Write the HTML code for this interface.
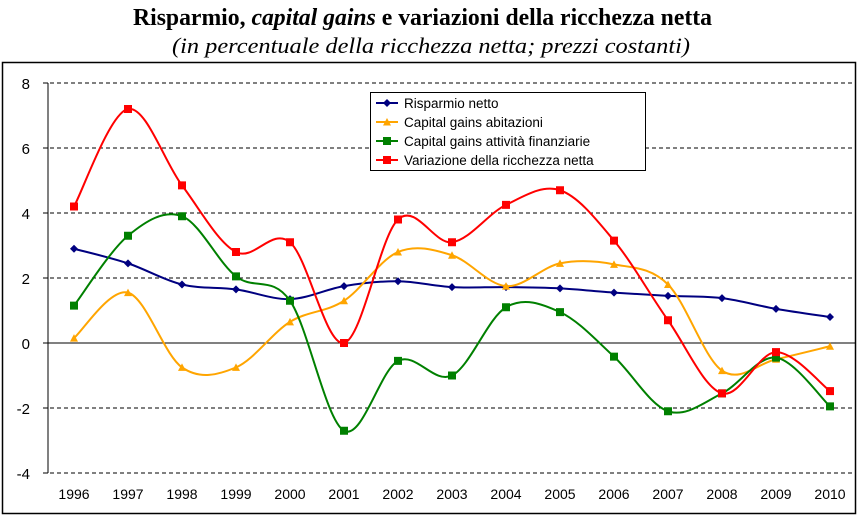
<!DOCTYPE html>
<html><head><meta charset="utf-8"><style>
body{margin:0;background:#fff;width:859px;height:529px;overflow:hidden}
svg{display:block}
</style></head><body>
<svg id="s" width="859" height="529" xmlns="http://www.w3.org/2000/svg">
<text x="133" y="25" textLength="579" lengthAdjust="spacingAndGlyphs" font-family="Liberation Serif, serif" font-size="24" font-weight="bold">Risparmio, <tspan font-style="italic">capital gains</tspan> e variazioni della ricchezza netta</text>
<text x="172" y="53" textLength="518" lengthAdjust="spacingAndGlyphs" font-family="Liberation Serif, serif" font-size="22" font-style="italic">(in percentuale della ricchezza netta; prezzi costanti)</text>
<rect x="2.5" y="62.5" width="853" height="451" fill="none" stroke="#000" stroke-width="1.5"/>
<g id="g"></g>
</svg>
<script>
const g=document.getElementById('g');
const NS='http://www.w3.org/2000/svg';
function el(t,a,txt){const e=document.createElementNS(NS,t);for(const k in a)e.setAttribute(k,a[k]);if(txt!==undefined)e.textContent=txt;g.appendChild(e);return e;}
const Y=v=>343-32.5*v, X=i=>74+54*i;
for(let v=-4;v<=8;v+=2){
 el('line',{x1:43,x2:855,y1:Y(v),y2:Y(v),stroke:'#000','stroke-width':1,'stroke-dasharray':v==0?'':'4,3'});
 el('line',{x1:43,x2:48,y1:Y(v),y2:Y(v),stroke:'#000'});
 el('text',{x:30,y:Y(v)+6,'text-anchor':'end','font-family':'Liberation Sans, sans-serif','font-size':15},String(v));
}
el('line',{x1:48,x2:48,y1:Y(8),y2:Y(-4),stroke:'#000'});
for(let i=0;i<15;i++)el('text',{x:X(i),y:499,'text-anchor':'middle','font-family':'Liberation Sans, sans-serif','font-size':14},String(1996+i));
const S=[
 ['#000080','d',[2.9,2.45,1.8,1.65,1.35,1.75,1.9,1.72,1.72,1.68,1.55,1.45,1.38,1.05,0.8],'Risparmio netto'],
 ['#FFA500','t',[0.15,1.55,-0.75,-0.75,0.65,1.3,2.8,2.7,1.75,2.45,2.42,1.8,-0.85,-0.5,-0.1],'Capital gains abitazioni'],
 ['#008000','s',[1.15,3.3,3.9,2.05,1.3,-2.7,-0.55,-1.0,1.1,0.95,-0.42,-2.1,-1.55,-0.45,-1.95],'Capital gains attività finanziarie'],
 ['#FF0000','s',[4.2,7.2,4.85,2.8,3.1,0.0,3.8,3.1,4.25,4.7,3.15,0.7,-1.55,-0.28,-1.48],'Variazione della ricchezza netta']];
function mark(c,m,x,y){
 if(m=='d')el('path',{d:`M${x-4} ${y}L${x} ${y-4}L${x+4} ${y}L${x} ${y+4}Z`,fill:c});
 else if(m=='t')el('path',{d:`M${x-4} ${y+3.5}L${x} ${y-4}L${x+4} ${y+3.5}Z`,fill:c});
 else el('rect',{x:x-4,y:y-4,width:8,height:8,fill:c});
}
S.forEach(([c,m,d])=>{
 const p=d.map((v,i)=>[X(i),Y(v)]);let s=`M${p[0][0]} ${p[0][1]}`;
 for(let i=0;i<p.length-1;i++){const a=p[Math.max(i-1,0)],b=p[i],q=p[i+1],r=p[Math.min(i+2,p.length-1)];const t=1/6;
  s+=`C${b[0]+(q[0]-a[0])*t} ${b[1]+(q[1]-a[1])*t} ${q[0]-(r[0]-b[0])*t} ${q[1]-(r[1]-b[1])*t} ${q[0]} ${q[1]}`;}
 el('path',{d:s,fill:'none',stroke:c,'stroke-width':2});
 p.forEach(([x,y])=>mark(c,m,x,y));
});
el('rect',{x:370.5,y:92.5,width:275,height:78,fill:'#fff',stroke:'#000'});
S.forEach(([c,m,,n],i)=>{const y=103+19*i;el('line',{x1:376,x2:398,y1:y,y2:y,stroke:c,'stroke-width':2});mark(c,m,387,y);
 el('text',{x:404,y:y+5,'font-family':'Liberation Sans, sans-serif','font-size':13.5},n);});
</script>
</body></html>
